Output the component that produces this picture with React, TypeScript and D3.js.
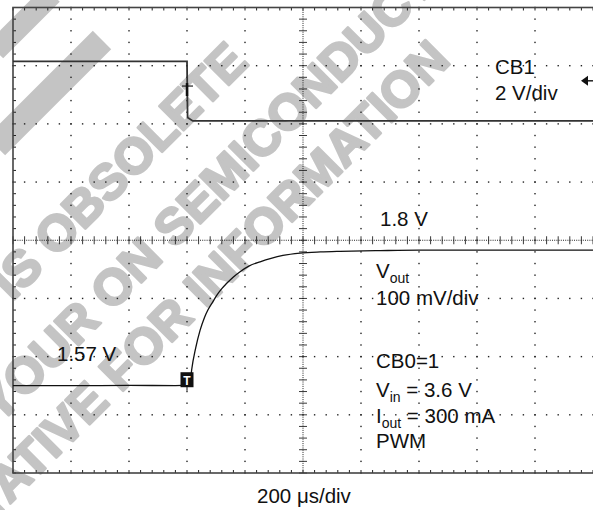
import React from 'react';
import * as d3 from 'd3';

// ---- data ----
const timeDomainUs = [0, 2000]; // 10 div x 200 us/div
const voutDomainV = [1.42, 2.22]; // 8 div x 100 mV/div
const cb1DomainV = [-12.1, 3.9]; // 8 div x 2 V/div

const cb1TimeUs = [0, 600, 602, 620, 2000];
const cb1Volts = [2.05, 2.05, 0.12, 0, 0];

const voutTimeUs = [0, 200, 400, 560, 610, 616, 630, 645, 660, 672, 690, 702, 720, 737, 760, 783, 815, 852, 890, 931, 990, 1060, 1128, 1250, 1400, 1600, 1800, 2000];
const voutVolts = [1.57, 1.57, 1.5705, 1.5702, 1.571, 1.597, 1.635, 1.665, 1.687, 1.7, 1.715, 1.725, 1.737, 1.746, 1.757, 1.766, 1.776, 1.783, 1.789, 1.794, 1.798, 1.8, 1.801, 1.802, 1.803, 1.803, 1.803, 1.803];

const triggerTimeUs = 600;
const cb1CursorV = 1.2;
const cb1GroundMarkerV = 1.38;

const watermarkLines = [
  'THIS PRODUCT IS OBSOLETE',
  'CONTACT YOUR ON SEMICONDUCTOR',
  'REPRESENTATIVE FOR INFORMATION',
];

// ---- layout ----
const W = 593;
const H = 510;
const L = 13;
const R = 593;
const T = 7.5;
const B = 473;
const FONT = 'Liberation Sans, Arial, Helvetica, sans-serif';
const FS = 20.5;

export default function App() {
  const x = d3.scaleLinear().domain(timeDomainUs).range([L, R]);
  const yV = d3.scaleLinear().domain(voutDomainV).range([B, T]);
  const yC = d3.scaleLinear().domain(cb1DomainV).range([B, T]);

  const majorX = d3.range(0, 11).map((i) => timeDomainUs[0] + i * 200);
  const minorX = d3.range(0, 51).map((i) => timeDomainUs[0] + i * 40);
  const majorY = d3.range(0, 9).map((i) => voutDomainV[0] + i * 0.1);
  const minorY = d3.range(0, 41).map((i) => voutDomainV[0] + i * 0.02);
  const centerX = majorX[5];
  const centerY = majorY[4];

  const voutLine = d3
    .line<number>()
    .x((_, i) => x(voutTimeUs[i]))
    .y((d) => yV(d))
    .curve(d3.curveMonotoneX)(voutVolts);
  const cb1Line = d3
    .line<number>()
    .x((_, i) => x(cb1TimeUs[i]))
    .y((d) => yC(d))(cb1Volts);

  const dots: JSX.Element[] = [];
  majorX.forEach((tx, i) => {
    if (i === 0 || i === 10 || i === 5) return;
    minorY.forEach((vy, j) => {
      dots.push(<rect key={`vx${i}-${j}`} x={x(tx) - 0.7} y={yV(vy) - 0.7} width={1.4} height={1.4} fill="#222" />);
    });
  });
  majorY.forEach((vy, i) => {
    if (i === 0 || i === 8 || i === 4) return;
    minorX.forEach((tx, j) => {
      dots.push(<rect key={`hy${i}-${j}`} x={x(tx) - 0.7} y={yV(vy) - 0.7} width={1.4} height={1.4} fill="#222" />);
    });
  });

  const cx = x(triggerTimeUs);
  const vLow = yV(voutVolts[0]);
  const gy = yC(cb1GroundMarkerV);

  return (
    <svg width={W} height={H} style={{ position: 'absolute', left: 0, top: 0, background: '#fff' }} fontFamily={FONT}>
      <rect width={W} height={H} fill="#fff" />
      {/* watermark */}
      <g fill="#c4c4c4">
        <rect transform="translate(102,40) rotate(135)" x={0} y={-13} width={150} height={26} />
        <rect transform="translate(52,-6) rotate(135)" x={0} y={-11} width={80} height={22} />
      </g>
      <g fill="#c4c4c4" stroke="#c4c4c4" strokeWidth={2.6} strokeLinejoin="round" fontWeight="bold" fontSize={50} fontFamily={FONT}>
        <text transform="translate(250,64) rotate(-45)" textAnchor="end">{watermarkLines[0]}</text>
        <text transform="translate(490,-66) rotate(-45)" textAnchor="end">{watermarkLines[1]}</text>
        <text transform="translate(452,62) rotate(-45)" textAnchor="end">{watermarkLines[2]}</text>
      </g>
      {/* grid */}
      {dots}
      {/* center axes */}
      <line x1={L} x2={R} y1={yV(centerY)} y2={yV(centerY)} stroke="#222" strokeWidth={1} strokeDasharray="1,1.2" />
      <line x1={x(centerX)} x2={x(centerX)} y1={T} y2={B} stroke="#222" strokeWidth={1} strokeDasharray="1,1.2" />
      {minorX.map((tx, j) => (
        <line key={`cxt${j}`} x1={x(tx)} x2={x(tx)} y1={yV(centerY) - 4} y2={yV(centerY) + 4} stroke="#222" strokeWidth={0.9} />
      ))}
      {minorY.map((vy, j) => (
        <line key={`cyt${j}`} x1={x(centerX) - 4} x2={x(centerX) + 4} y1={yV(vy)} y2={yV(vy)} stroke="#222" strokeWidth={0.9} />
      ))}
      {/* border ticks */}
      {minorX.map((tx, j) => (
        <g key={`bt${j}`}>
          <line x1={x(tx)} x2={x(tx)} y1={T} y2={T + 3} stroke="#222" strokeWidth={1} />
          <line x1={x(tx)} x2={x(tx)} y1={B - 3} y2={B} stroke="#222" strokeWidth={1} />
        </g>
      ))}
      {minorY.map((vy, j) => (
        <line key={`bl${j}`} x1={L} x2={L + 3} y1={yV(vy)} y2={yV(vy)} stroke="#222" strokeWidth={1} />
      ))}
      {/* border */}
      <rect x={L} y={T} width={R - L + 2} height={B - T} fill="none" stroke="#444" strokeWidth={1.6} />
      {/* traces */}
      <path d={cb1Line || ''} fill="none" stroke="#333" strokeWidth={1.8} />
      <path d={voutLine || ''} fill="none" stroke="#111" strokeWidth={1.3} />
      {/* cursor on CB1 */}
      <line x1={cx - 5} x2={cx + 6} y1={yC(cb1CursorV)} y2={yC(cb1CursorV)} stroke="#222" strokeWidth={1.2} />
      <line x1={cx} x2={cx} y1={yC(cb1CursorV) - 3} y2={yC(cb1CursorV) + 10} stroke="#111" strokeWidth={2.5} />
      {/* CB1 ground marker arrow */}
      <path d={`M${R - 12},${gy} l7,-5 v10 z`} fill="#111" />
      <line x1={R - 7} x2={R} y1={gy} y2={gy} stroke="#111" strokeWidth={1.4} />
      {/* trigger marker */}
      <rect x={cx - 6.5} y={vLow - 13.5} width={13} height={15} fill="#111" />
      <text x={cx} y={vLow - 1} textAnchor="middle" fontSize={12} fontWeight="bold" fill="#fff">T</text>
      <line x1={cx} x2={cx} y1={vLow} y2={vLow + 5} stroke="#111" strokeWidth={1} />
      {/* labels */}
      <g fontSize={FS} fill="#111">
        <text x={495} y={74}>CB1</text>
        <text x={495} y={100}>2 V/div</text>
        <text x={380} y={226}>1.8 V</text>
        <text x={376} y={278}>
          V<tspan fontSize={14} dy={5}>out</tspan>
        </text>
        <text x={376} y={305}>100 mV/div</text>
        <text x={376} y={368}>CB0=1</text>
        <text x={376} y={397}>
          V<tspan fontSize={14} dy={5}>in</tspan>
          <tspan dy={-5}> = 3.6 V</tspan>
        </text>
        <text x={376} y={423}>
          I<tspan fontSize={14} dy={5}>out</tspan>
          <tspan dy={-5}> = 300 mA</tspan>
        </text>
        <text x={376} y={448}>PWM</text>
        <text x={57} y={361}>1.57 V</text>
        <text x={257} y={503}>200 μs/div</text>
      </g>
    </svg>
  );
}
